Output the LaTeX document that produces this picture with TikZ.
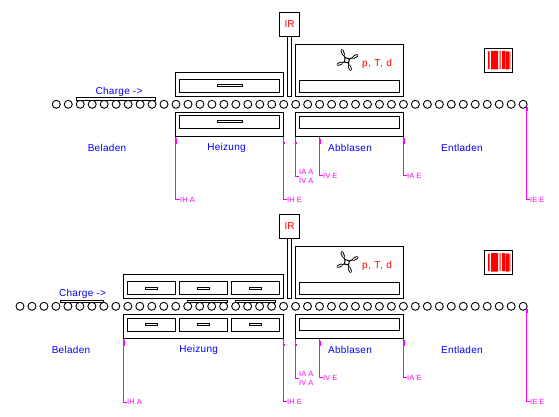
\documentclass[tikz,border=0pt]{standalone}
\usepackage{fontspec}
\setmainfont{Liberation Sans}
\newcommand{\lsp}{\addfontfeature{LetterSpace=3}}
\definecolor{mg}{RGB}{255,0,255}
\definecolor{bl}{RGB}{0,0,255}
\definecolor{rd}{RGB}{255,0,0}
\tikzset{
  bx/.style={draw=black,line width=1pt,fill=white,rectangle,inner sep=0pt,outer sep=0pt},
  roller/.style={draw=black,line width=.9pt,fill=white,circle,inner sep=0pt,outer sep=0pt,minimum size=8pt},
  slab/.style={bx,line width=.9pt},
  blabel/.style={text=bl,font=\fontsize{10}{10}\selectfont,inner sep=0pt},
  rlabel/.style={text=rd,font=\fontsize{10}{10}\selectfont,inner sep=0pt},
  mlabel/.style={text=mg,font=\fontsize{7.5}{7.5}\selectfont,inner sep=0pt,anchor=west},
  mline/.style={draw=mg,line width=1pt},
  mtick/.style={draw=mg,line width=2pt},
  armo/.style={draw=black,line width=3pt,line cap=round},
  armi/.style={draw=white,line width=1.1pt,line cap=round},
}
% name, x1, y1, x2, y2
\newcommand{\bxn}[5]{\node[bx,minimum width={(#4-#2)*1pt},minimum height={(#5-#3)*1pt}] (#1) at ({(#2+#4)/2},{(#3+#5)/2}) {};}
\newcommand{\barn}[5]{\node[slab,minimum width={(#4-#2)*1pt},minimum height={(#5-#3)*1pt}] (#1) at ({(#2+#4)/2},{(#3+#5)/2}) {};}
\newcommand{\rightpart}{%
  \bxn{ir}{279.5}{12.5}{299.5}{36.5}
  \node[rlabel] (irt) at (289.5,24.5) {IR};
  \bxn{tube}{287.5}{36.5}{291.5}{96.5}
  \bxn{ptd}{295.5}{44.5}{403.5}{96.5}
  \bxn{ptdi}{299.5}{80.5}{399.5}{92.5}
  \bxn{abb}{295.5}{112.5}{403.5}{136.5}
  \bxn{abbi}{299.5}{116.5}{399.5}{128.5}
  \node[rlabel] (ptdt) at (377,64) {\addfontfeature{LetterSpace=6}p, T, d};
  % molecule
  \draw[black,line width=1pt,line join=round] (345,57.5) -- (349.5,59) -- (348.5,63) -- (344.5,62) -- cycle;
  \draw[black,line width=1pt] (345,57.5) -- (343.5,55) (349.5,59) -- (353,57.5) (348.5,63) -- (349,65.5) (344.5,62) -- (342,62.5);
  \draw[armo] (342,50.5) -- (343.5,54.5);
  \draw[armi] (342,50.5) -- (343.5,54.5);
  \draw[armo] (353.5,57.5) -- (357,55.5);
  \draw[armi] (353.5,57.5) -- (357,55.5);
  \draw[armo] (349.2,66) -- (350.5,69.5);
  \draw[armi] (349.2,66) -- (350.5,69.5);
  \draw[armo] (338,64.5) -- (341.5,63);
  \draw[armi] (338,64.5) -- (341.5,63);
  % barcode
  \bxn{code}{484.5}{48.5}{512.5}{72.5}
  \fill[rd] (488,51.5) rectangle (489.5,69) (491,51) rectangle (498,69.5) (499.5,51) rectangle (500.5,69)
            (502,51) rectangle (505,69) (505.5,51.5) rectangle (509,69.5) (509.6,52) rectangle (510.4,69);
  % texts
  \node[blabel] (abbt) at (350,148) {\lsp Abblasen};
  \node[blabel] (ent) at (462,148) {\lsp Entladen};
  % labels
  \node[mlabel] (lhe) at (287,199.5) {IH E};
  \node[mlabel] (laa) at (299,171.5) {IA A};
  \node[mlabel] (lva) at (299,180.5) {IV A};
  \coordinate (caa) at (299,176);
  \node[mlabel] (lve) at (323,175.7) {IV E};
  \node[mlabel] (lae) at (407,175.7) {IA E};
  \node[mlabel] (lee) at (530,199.5) {IE E};
  \coordinate (cve) at ($(abb.south west)+(24,0)$);
  \coordinate (cee) at (526.5,107);
  \draw[mline] (heat2.south east) |- (lhe.west);
  \draw[mline] (abb.south west) |- (caa);
  \draw[mline] (cve) |- (lve.west);
  \draw[mline] (abb.south east) |- (lae.west);
  \draw[mline] (cee) |- (lee.west);
  \draw[mtick] ($(heat2.south east)+(0,5)$) -- ++(0,2);
  \draw[mtick] ($(abb.south west)+(0,5)$) -- ++(0,2);
  \draw[mtick] ($(cve)+(0,2)$) -- ++(0,5);
  \draw[mtick] ($(abb.south east)+(0,1)$) -- ++(0,6);
  \draw[mtick] (cee) -- ++(0,4);
}
\usetikzlibrary{calc}
\begin{document}
\begin{tikzpicture}[x=1pt,y=-1pt]
\useasboundingbox (0,0) rectangle (559,417);
\fill[white] (0,0) rectangle (559,417);
% ===== top line =====
\foreach \i in {0,...,39} { \node[roller] (ra\i) at ({56.3+11.97*\i},104.3) {}; }
\barn{chg}{76.5}{97.5}{155.5}{100}
\node[blabel] (chgt) at (119,91.5) {\lsp Charge ->};
\bxn{heat1}{175.5}{72.5}{283.5}{96.5}
\bxn{heat1i}{179.5}{79.5}{279.5}{92.5}
\bxn{s1}{217.5}{84.5}{242.5}{86.5}
\bxn{heat2}{175.5}{112.5}{283.5}{136.5}
\bxn{heat2i}{179.5}{116}{279.5}{128.5}
\bxn{s2}{217.5}{120.5}{242.5}{122.5}
\node[blabel] (bel) at (107,148) {\lsp Beladen};
\node[blabel] (hei) at (226.5,148) {\lsp Heizung};
\node[mlabel] (lha) at (180,199.5) {IH A};
\draw[mline] (heat2.south west) |- (lha.west);
\draw[mtick] ($(heat2.south west)+(0,1)$) -- ++(0,6);
\rightpart
% ===== bottom line =====
\begin{scope}[name prefix=b-]
\foreach \i in {0,...,42} { \node[roller] (rb\i) at ({20+11.98*\i},306.3) {}; }
\barn{chg}{60.5}{300.3}{103.5}{302.5}
\barn{chg2}{187.5}{300.3}{227.5}{302.5}
\barn{chg3}{235.5}{300.3}{275.5}{302.5}
\node[blabel] (chgt) at (82.5,294) {\lsp Charge ->};
\bxn{heat1}{123.5}{274.5}{283.5}{298.5}
\bxn{heat2}{123.5}{314.5}{283.5}{338.5}
\foreach \n/\a/\b/\c/\d in {1/127.5/175.5/145.5/157.5,2/179.5/227.5/197.5/209.5,3/231.5/279.5/249.5/261.5}{
  \bxn{u\n}{\a}{281.5}{\b}{294.5}
  \bxn{us\n}{\c}{287.5}{\d}{289.5}
  \bxn{d\n}{\a}{318.5}{\b}{331.5}
  \bxn{ds\n}{\c}{323.5}{\d}{325.5}
}
\node[blabel] (bel) at (71,350) {\lsp Beladen};
\node[blabel] (hei) at (198.7,350) {\lsp Heizung};
\node[mlabel] (lha) at (127,402) {IH A};
\draw[mline] (heat2.south west) |- (lha.west);
\draw[mtick] ($(heat2.south west)+(0,1)$) -- ++(0,6);
\end{scope}
\begin{scope}[shift={(0,202)},name prefix=b-]
\rightpart
\end{scope}
\end{tikzpicture}
\end{document}
